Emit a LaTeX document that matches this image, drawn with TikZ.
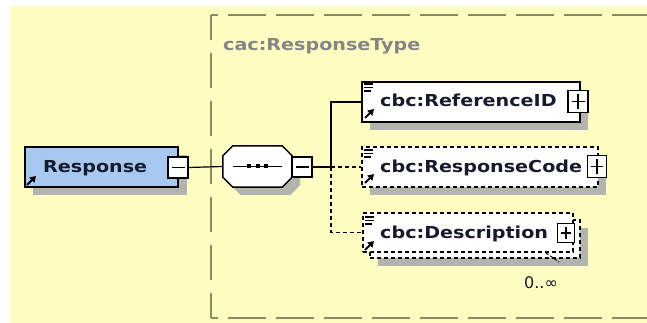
\documentclass[tikz,border=0pt]{standalone}
\usepackage{fontspec}
\newfontfamily\lbl{DejaVu Sans}[FakeStretch=1.16]
\newfontfamily\plainfont{DejaVu Sans}
\usetikzlibrary{arrows.meta}
\definecolor{bg}{HTML}{FFFDC2}
\definecolor{framecol}{HTML}{8A8A6A}
\definecolor{shadowcol}{HTML}{B4B4AE}
\definecolor{rblue}{HTML}{A9C8F0}
\definecolor{typegray}{HTML}{858585}
\definecolor{ink}{HTML}{151B2C}
\newcommand\octagonpath[1]{([xshift=10pt]#1.north west) -- ([xshift=-10pt]#1.north east) -- ([yshift=-10pt]#1.north east) -- ([yshift=10pt]#1.south east) -- ([xshift=-10pt]#1.south east) -- ([xshift=10pt]#1.south west) -- ([yshift=10pt]#1.south west) -- ([yshift=-10pt]#1.north west) -- cycle}
\tikzset{
  elembox/.style={rectangle, draw=black, fill=white, line width=1.4pt, inner sep=0pt},
  optbox/.style={elembox, dash pattern=on 4pt off 3pt},
  pmbox/.style={rectangle, draw=black, fill=white, line width=1.2pt, inner sep=0pt},
  minus/.style={pmbox, path picture={\draw[line width=1.5pt] ([xshift=3.5pt]path picture bounding box.west) -- ([xshift=-3.5pt]path picture bounding box.east);}},
  plus/.style={pmbox, path picture={\draw[line width=1.5pt] ([xshift=3.5pt]path picture bounding box.west) -- ([xshift=-3.5pt]path picture bounding box.east) ([yshift=-3.5pt]path picture bounding box.north) -- ([yshift=3.5pt]path picture bounding box.south);}},
  lbltext/.style={font=\lbl\bfseries\fontsize{16.5}{18}\selectfont, text=ink, anchor=base west, inner sep=0pt},
  conn/.style={line width=1.2pt, draw=black},
  optconn/.style={conn, dash pattern=on 4pt off 3pt},
  frameline/.style={draw=framecol, line width=2pt},
  sqdot/.style={rectangle, fill=black, inner sep=0pt, minimum size=4pt},
  seqframe/.style={rectangle, inner sep=0pt, minimum width=69pt, minimum height=41pt},
  doclines/.pic={\draw[line width=1.2pt] (0,0) -- (9,0) (0,3.5) -- (9,3.5) (0,7) -- (7,7);},
  refarrow/.pic={\draw[line width=2pt, -{Triangle[length=6pt,width=7pt]}] (0,10) -- (9,1);}
}
\begin{document}
\begin{tikzpicture}[x=1pt,y=-1pt]
\useasboundingbox (0,0) rectangle (647,323);
\fill[bg] (10,6) rectangle (647,323);
% dashed type frame
\draw[frameline, dash pattern=on 38pt off 10pt, dash phase=31pt] (211,15) -- (660,15);
\draw[frameline, dash pattern=on 35pt off 13pt, dash phase=10pt] (211,15) -- (211,318);
\draw[frameline, dash pattern=on 38pt off 10pt, dash phase=31pt] (211,318) -- (660,318);
\node[font=\lbl\bfseries\fontsize{16.5}{18}\selectfont, text=typegray, anchor=base west, inner sep=0pt] (typename) at (223,51) {cac:ResponseType};
% shadows
\fill[shadowcol] (33,155) rectangle (187,195);
\node[seqframe] (seqshadow) at (265.5,174.5) {};
\fill[shadowcol] \octagonpath{seqshadow};
\fill[shadowcol] (370,90) rectangle (588,130);
\fill[shadowcol] (370,155) rectangle (606,195);
\fill[shadowcol] (378,228) rectangle (588,266);
% root element
\node[elembox, fill=rblue, minimum width=153pt, minimum height=40pt] (resp) at (101.5,167) {};
\node[lbltext] (resplabel) at (43,172) {Response};
\pic at (27,175) {refarrow};
\node[minus, minimum width=20pt, minimum height=21pt] (respminus) at (178,167.5) {};
% sequence compositor
\node[seqframe] (seq) at (257.5,166.5) {};
\draw[line width=1.5pt, fill=white] \octagonpath{seq};
\draw[line width=1.2pt] ([xshift=-24.5pt]seq.center) -- ([xshift=24.5pt]seq.center);
\node[sqdot] (d1) at ([xshift=-8.5pt]seq.center) {};
\node[sqdot] (d2) at (seq.center) {};
\node[sqdot] (d3) at ([xshift=8.5pt]seq.center) {};
\node[minus, minimum width=20pt, minimum height=20pt] (seqminus) at (302,167) {};
% children
\node[elembox, minimum width=218pt, minimum height=40pt] (ref) at (471,102) {};
\node[lbltext] (reflabel) at (380,107) {cbc:ReferenceID};
\node[plus, minimum width=20pt, minimum height=22pt] (refplus) at (578,101.5) {};
\pic at (364,84) {doclines};
\pic at (365,108) {refarrow};

\node[optbox, minimum width=236pt, minimum height=40pt] (code) at (480,167) {};
\node[lbltext] (codelabel) at (380,172) {cbc:ResponseCode};
\node[plus, minimum width=19pt, minimum height=22pt] (codeplus) at (597,166.5) {};
\pic at (364,150) {doclines};
\pic at (365,173) {refarrow};

\node[optbox, minimum width=210pt, minimum height=38pt] (descback) at (475,239) {};
\node[optbox, minimum width=210pt, minimum height=39pt] (desc) at (468,232.5) {};
\node[lbltext] (desclabel) at (380,238) {cbc:Description};
\node[plus, minimum width=17pt, minimum height=19pt] (descplus) at (566,233) {};
\pic at (365,217) {doclines};
\pic at (365,240) {refarrow};
\coordinate (occA) at (546,253);
\coordinate (occB) at (559,262);
\draw[line width=1pt, dash pattern=on 3pt off 2pt] (occA) -- (occB);
\node[font=\plainfont\fontsize{16}{18}\selectfont, text=ink, inner sep=0pt] (occ) at (541,283) {0..∞};
% connectors
\coordinate (junction) at (331,167);
\draw[conn] (respminus.east) -- (seq.west);
\draw[conn] (seqminus.east) -- (junction);
\draw[conn] (junction) |- (ref.west);
\draw[optconn] (junction) -- (code.west);
\draw[optconn] (junction) |- (desc.west);
\end{tikzpicture}
\end{document}
